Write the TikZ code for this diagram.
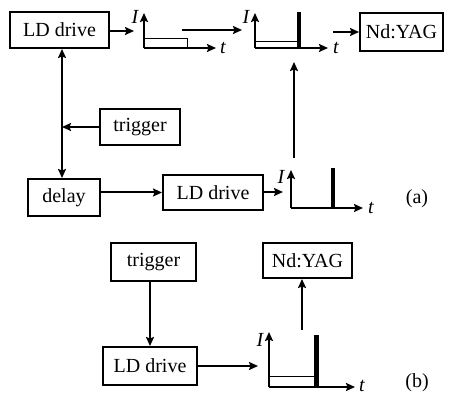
\documentclass[tikz,border=0pt]{standalone}
\usepackage{fontspec}
\setmainfont{Liberation Serif}
\usetikzlibrary{positioning, arrows.meta}

\begin{document}
\begin{tikzpicture}[x=1pt, y=-1pt,
  box/.style={draw, line width=2pt, inner sep=0pt, minimum height=36pt, font=\fontsize{20}{22}\selectfont},
  link/.style={-{Stealth[length=9pt, width=8pt, inset=1.5pt]}, line width=2pt},
  axis/.style={-{Stealth[length=9pt, width=8pt, inset=1.5pt]}, line width=2pt},
  lbl/.style={inner sep=0pt, font=\fontsize{20}{22}\selectfont\itshape},
  tag/.style={font=\fontsize{20}{22}\selectfont}]
\useasboundingbox (0,0) rectangle (450,395);

% Boxes (a)
\node[box, minimum width=99pt] (ld1) at (59.5,30) {LD drive};
\node[box, minimum width=83pt, minimum height=38pt] (nd1) at (401.5,32) {Nd:YAG};
\node[box, minimum width=80pt] (trig1) at (140,127) {trigger};
\node[box, minimum width=72pt, minimum height=37pt] (delay) at (64,197.5) {delay};
\node[box, minimum width=100pt, minimum height=35pt] (ld2) at (213,192.5) {LD drive};

% Boxes (b)
\node[box, minimum width=85pt, minimum height=38pt] (trig2) at (153.5,262) {trigger};
\node[box, minimum width=94pt, minimum height=38pt] (ld3) at (150,366) {LD drive};
\node[box, minimum width=89pt, minimum height=35pt] (nd2) at (307.5,260.5) {Nd:YAG};

% Pulse 1
\draw[axis] (144,48) -- (144,13);
\draw[axis] (144,48) -- (216,48);
\draw[line width=1pt] (144,39) rectangle (187,48);
\node[lbl] (i1) at (135,17) {I};
\node[lbl] (t1) at (223,48) {t};

% Pulse 2
\draw[axis] (255,48) -- (255,13);
\draw[axis] (255,48) -- (328,48);
\draw[line width=1pt] (255,42) rectangle (299,48);
\draw[line width=3.5pt] (299,49) -- (299,12);
\node[lbl] (i2) at (246,17) {I};
\node[lbl] (t2) at (336,48) {t};

% Pulse 3
\draw[axis] (291,208) -- (291,170);
\draw[axis] (291,208) -- (363,208);
\draw[line width=3.5pt] (333,209) -- (333,168);
\node[lbl] (i3) at (281,177) {I};
\node[lbl] (t3) at (371,208) {t};

% Pulse (b)
\draw[axis] (269,387) -- (269,332);
\draw[axis] (269,387) -- (355,387);
\draw[line width=1pt] (269,377) rectangle (316,387);
\draw[line width=5.5pt] (316.5,388) -- (316.5,335);
\node[lbl] (i4) at (260,340) {I};
\node[lbl] (t4) at (362,386) {t};

% Free ends
\coordinate (vline) at (62,0);
\coordinate (p1in) at (134,31);
\coordinate (p1out) at (182,30);
\coordinate (p2in) at (242,30);
\coordinate (p2out) at (333,32);
\coordinate (p2up) at (294,62);
\coordinate (p3in) at (283,192);
\coordinate (p3out) at (294,158);
\coordinate (p4in) at (258,366);
\coordinate (p4out) at (302,330);

% Connectors (a)
\draw[link] (ld1.east |- p1in) -- (p1in);
\draw[link] (p1out) -- (p2in);
\draw[link] (p2out) -- (p2out -| nd1.west);
\draw[link] (p3out) -- (p2up);
\draw[link, {Stealth[length=9pt, width=8pt, inset=1.5pt]}-{Stealth[length=9pt, width=8pt, inset=1.5pt]}] (ld1.south -| vline) -- (delay.north -| vline);
\draw[link] (trig1.west) -- (trig1.west -| vline);
\draw[link] (ld2.west -| delay.east) -- (ld2.west);
\draw[link] (ld2.east |- p3in) -- (p3in);

% Connectors (b)
\draw[link] (trig2.south -| ld3.north) -- (ld3.north);
\draw[link] (ld3.east) -- (p4in);
\draw[link] (p4out) -- (p4out |- nd2.south);

% Labels
\node[tag] (taga) at (417,199) {(a)};
\node[tag] (tagb) at (417,383) {(b)};

\end{tikzpicture}
\end{document}
